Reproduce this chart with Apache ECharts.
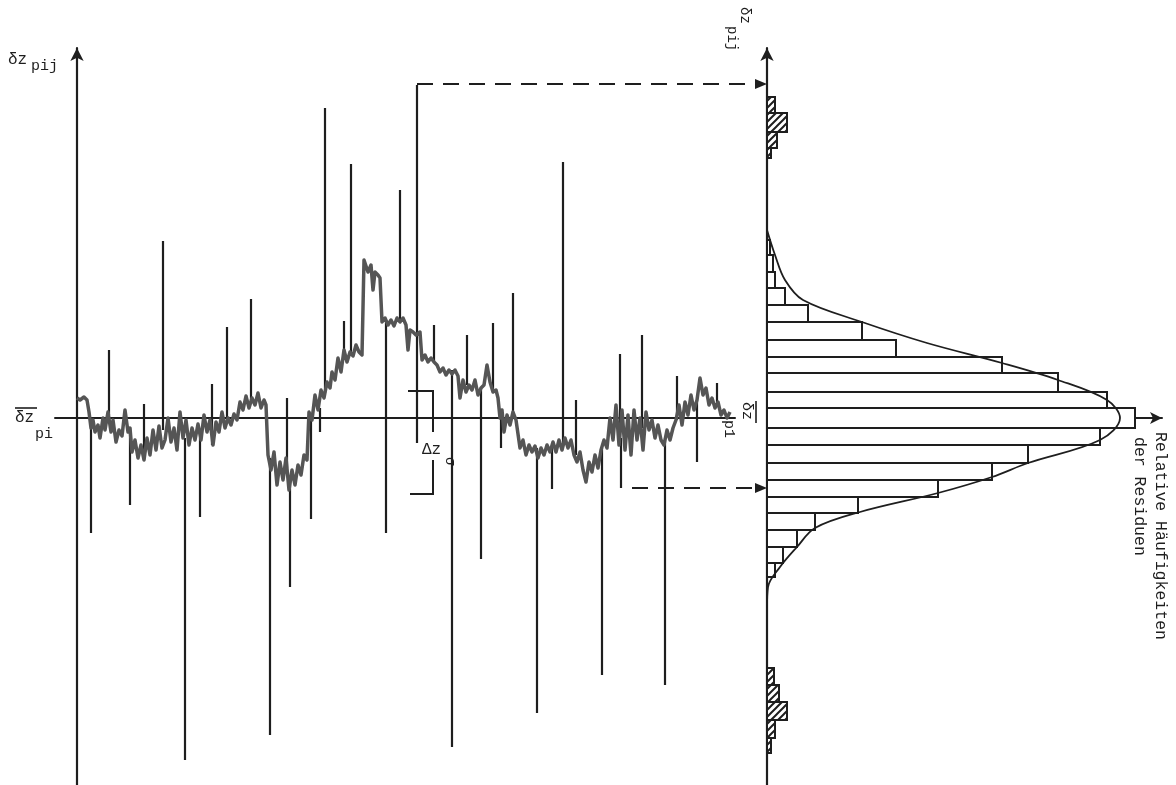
<!DOCTYPE html>
<html>
<head>
<meta charset="utf-8">
<script src="https://cdn.jsdelivr.net/npm/echarts@6/dist/echarts.min.js"></script>
<style>
html, body { margin: 0; padding: 0; background: #fff; }
#chart { width: 1176px; height: 785px; }
</style>
</head>
<body>
<div id="chart"></div>
<script>
// residuals dz_pij along profile p1: [position, dz]
var trace = [
    [0, 2.0], [3, 1.8], [7, 2.1], [10, 1.8], [12, 0.6], [14, -1.0], [16, -0.2], [18, -1.4], [21, -0.7], [23, -2.0],
    [26, 0], [28, -1.2], [31, 0.6], [34, -1.4], [36, -0.2], [39, -2.4], [42, -1.2], [45, -1.8], [48, 0.8], [51, -1.4],
    [53, -1.0], [55, -3.4], [58, -2.2], [61, -4.0], [64, -2.7], [67, -4.2], [70, -2.0], [73, -3.7], [76, -1.2], [79, -3.2],
    [82, -0.8], [85, -3.0], [88, -2.2], [91, 0], [94, -2.4], [97, -1.0], [100, -3.2], [103, 0.6], [106, -2.0], [109, -0.2],
    [112, -2.7], [115, -1.0], [118, -2.2], [121, -0.6], [124, -2.2], [127, 0.3], [130, -1.4], [133, -0.2], [136, -2.7], [139, -0.4],
    [142, -1.4], [145, 0.6], [148, -1.0], [151, 0], [154, -0.7], [157, 0.4], [160, -0.2], [163, 1.6], [166, 0.8], [169, 2.2],
    [172, 1.0], [175, 2.0], [178, 1.3], [181, 2.5], [184, 1.0], [187, 1.8], [189, 1.3], [191, -3.7], [194, -5.2], [197, -3.4],
    [200, -6.7], [203, -4.4], [206, -6.2], [209, -4.0], [212, -7.2], [215, -5.2], [218, -6.7], [221, -4.7], [224, -5.7], [227, -3.7],
    [230, -4.2], [232, 0.6], [235, -0.2], [238, 2.3], [241, 0.8], [244, 2.8], [247, 2.0], [250, 3.6], [253, 3.0], [255, 4.6],
    [258, 3.8], [261, 6.0], [264, 4.6], [267, 6.8], [270, 5.6], [273, 6.6], [276, 6.2], [279, 7.3], [282, 6.6], [285, 6.3],
    [287, 15.8], [289, 16.0], [291, 14.6], [294, 15.3], [296, 12.8], [298, 14.6], [301, 14.3], [303, 14.0], [305, 9.6], [308, 10.0],
    [311, 9.3], [314, 9.8], [317, 9.2], [320, 10.0], [323, 9.6], [326, 10.0], [329, 9.3], [331, 6.8], [333, 8.8], [336, 8.6],
    [339, 8.3], [343, 8.6], [345, 5.8], [348, 6.3], [351, 5.6], [354, 6.0], [357, 5.6], [360, 5.3], [363, 4.6], [366, 5.0],
    [369, 4.3], [372, 4.8], [375, 4.4], [378, 4.8], [381, 4.2], [383, 2.0], [386, 3.8], [389, 2.6], [392, 3.3], [395, 2.8],
    [398, 3.8], [401, 2.3], [404, 3.0], [407, 3.3], [410, 5.3], [413, 3.6], [416, 2.6], [419, 2.8], [421, 2.0], [423, 0],
    [425, 0.8], [427, -1.4], [430, 0.3], [433, -0.7], [436, 0.6], [439, -0.2], [441, 0], [443, -3.0], [446, -2.2], [449, -3.7],
    [452, -2.7], [455, -3.4], [458, -2.8], [461, -4.0], [464, -3.0], [467, -3.7], [470, -2.7], [473, -3.4], [476, -2.4], [479, -3.4],
    [482, -2.2], [485, -3.2], [488, -2.0], [491, -3.0], [494, -2.2], [497, -3.7], [500, -4.4], [503, -3.4], [506, -5.2], [509, -6.4],
    [512, -4.4], [515, -5.4], [518, -3.7], [521, -5.0], [524, -3.2], [527, -2.2], [530, -3.0], [533, 0], [536, -2.2], [539, 1.3],
    [542, -2.7], [545, 0.8], [548, -3.2], [551, 0.3], [554, -3.7], [557, 0.8], [560, -2.2], [563, 0], [566, -3.2], [569, 0.6],
    [572, -1.2], [575, -0.2], [578, -2.0], [581, -0.7], [584, -2.2], [587, -2.7], [590, -1.2], [593, -2.2], [596, -1.0], [599, -0.2],
    [602, 1.3], [605, -0.7], [608, 1.6], [611, 0.3], [614, 2.3], [617, 0.8], [620, 1.8], [623, 4.0], [626, 2.3], [629, 3.0],
    [632, 1.3], [635, 2.0], [638, 1.0], [641, 1.6], [644, 0.3], [647, 0.8], [650, 0], [653, 0.6]
];

// gross errors (spikes): [position, from, to]
var spikes = [
    [32, 0.3, 6.8], [67, -4.2, 1.4], [86, -1.2, 17.7], [135, -2.7, 3.4], [150, -0.5, 9.1],
    [174, 1.5, 11.9], [210, -5.0, 2.0], [248, 2.5, 31.0], [267, 6.5, 9.7], [274, 6.5, 25.4],
    [323, 9.6, 22.8], [340, -2.5, 33.3], [357, 5.6, 9.3], [390, 3.3, 8.3], [416, 2.6, 9.5],
    [436, 0.6, 12.5], [486, -2.5, 25.6], [499, -3.7, 1.8], [543, -2.0, 6.4], [565, -1.0, 8.3],
    [600, -0.2, 4.2], [640, 1.6, 3.5],
    [14, -1.0, -11.5], [53, -1.0, -8.7], [108, -2.0, -34.2], [123, -2.0, -9.9], [193, -4.0, -31.7],
    [213, -6.0, -16.9], [234, 0.0, -10.1], [243, 1.0, -1.4], [309, 9.6, -11.5], [375, 4.8, -32.9],
    [404, 3.0, -14.1], [424, 0.5, -3.0], [460, -3.0, -29.5], [475, -3.0, -7.1], [525, -3.0, -25.7],
    [544, -2.0, -7.0], [588, -2.0, -26.7], [620, 1.8, -4.4]
];

// delta z sigma bracket
var bracketTop = [[331, 2.7], [356, 2.7], [356, -1.4]];
var bracketBottom = [[356, -4.2], [356, -7.6], [333, -7.6]];

// dashed arrows to the histogram: [from position, level, to position]
var arrows = [[340, 33.4, 690], [555, -7.0, 690]];

// histogram of residuals: class low, class high, relative frequency
var binLow  = [16.3, 14.6, 13.0, 11.3, 9.6, 7.8, 6.1, 4.5, 2.6, 1.0, -1.0, -2.7, -4.5, -6.2, -7.9, -9.5, -11.2, -12.9, -14.5, -15.9];
var binHigh = [17.8, 16.3, 14.6, 13.0, 11.3, 9.6, 7.8, 6.1, 4.5, 2.6, 1.0, -1.0, -2.7, -4.5, -6.2, -7.9, -9.5, -11.2, -12.9, -14.5];
var binFreq = [0.3, 0.6, 0.8, 1.8, 4.1, 9.5, 12.9, 23.5, 29.1, 34.0, 36.8, 33.3, 26.1, 22.5, 17.1, 9.1, 4.8, 3.0, 1.6, 0.8];

// outlier classes (hatched)
var outLow  = [30.5, 28.6, 27.0, 26.0, -26.7, -28.4, -30.2, -32.0, -33.5];
var outHigh = [32.1, 30.5, 28.6, 27.0, -25.0, -26.7, -28.4, -30.2, -32.0];
var outFreq = [0.8, 2.0, 1.0, 0.4, 0.7, 1.2, 2.0, 0.8, 0.4];

// normal curve as drawn
var curveFreq = [0, 0.8, 1.8, 3.6, 9.5, 16.0, 23.5, 29.1, 34.0, 35.3, 33.3, 26.1, 22.5, 17.1, 9.3, 4.8, 3.0, 1.3, 0.1, 0];
var curveDz   = [18.8, 16.3, 13.8, 11.8, 9.6, 7.5, 5.5, 3.8, 1.8, 0, -2.2, -4.5, -5.9, -7.5, -9.4, -11.0, -12.9, -14.9, -16.9, -19.0];

var ink = '#1e1e1e';
var traceColor = '#555';
var mono = '"Liberation Mono", "DejaVu Sans Mono", monospace';

var chart = echarts.init(document.getElementById('chart'));

function zip3(a, b, c) {
    return a.map(function (v, i) { return [v, b[i], c[i]]; });
}

var hatch = document.createElement('canvas');
hatch.width = 7;
hatch.height = 7;
(function () {
    var g = hatch.getContext('2d');
    g.fillStyle = '#fff';
    g.fillRect(0, 0, 7, 7);
    g.strokeStyle = ink;
    g.lineWidth = 2;
    g.beginPath();
    g.moveTo(-1, 8); g.lineTo(8, -1);
    g.moveTo(-4, 4); g.lineTo(4, -4);
    g.moveTo(3, 11); g.lineTo(11, 3);
    g.stroke();
})();

function binRenderer(fill) {
    return function (params, api) {
        var a = api.coord([0, api.value(1)]);
        var b = api.coord([api.value(2), api.value(0)]);
        return {
            type: 'rect',
            shape: {x: a[0], y: a[1], width: b[0] - a[0], height: b[1] - a[1]},
            style: {fill: fill, stroke: ink, lineWidth: 2}
        };
    };
}

var hiddenAxis = {
    axisTick: {show: false},
    axisLabel: {show: false},
    splitLine: {show: false}
};

function axis(extra) {
    return Object.assign({}, hiddenAxis, extra);
}

var option = {
    backgroundColor: '#fff',
    animation: false,
    grid: [
        {left: 55, top: 48, width: 680, height: 737},
        {left: 767, top: 48, width: 395, height: 737}
    ],
    xAxis: [
        axis({type: 'value', gridIndex: 0, min: -22, max: 658,
            axisLine: {onZero: true, lineStyle: {color: ink, width: 2}}}),
        axis({type: 'value', gridIndex: 1, min: 0, max: 39.5,
            axisLine: {onZero: true, symbol: ['none', 'arrow'], symbolSize: [9, 12], lineStyle: {color: ink, width: 2}}})
    ],
    yAxis: [
        axis({type: 'value', gridIndex: 0, min: -36.7, max: 37,
            axisLine: {show: true, onZero: true, symbol: ['none', 'arrow'], symbolSize: [10, 13], lineStyle: {color: ink, width: 2.2}}}),
        axis({type: 'value', gridIndex: 1, min: -36.7, max: 37,
            axisLine: {show: true, onZero: true, symbol: ['none', 'arrow'], symbolSize: [10, 13], lineStyle: {color: ink, width: 2.2}}})
    ],
    series: [
        {
            type: 'custom',
            xAxisIndex: 0, yAxisIndex: 0,
            data: spikes,
            z: 2,
            renderItem: function (params, api) {
                var a = api.coord([api.value(0), api.value(1)]);
                var b = api.coord([api.value(0), api.value(2)]);
                return {type: 'line', shape: {x1: a[0], y1: a[1], x2: b[0], y2: b[1]},
                    style: {stroke: ink, lineWidth: 2.2}};
            }
        },
        {
            type: 'line',
            xAxisIndex: 0, yAxisIndex: 0,
            data: trace,
            showSymbol: false,
            z: 3,
            lineStyle: {color: traceColor, width: 3.5, join: 'round'}
        },
        {
            type: 'custom',
            xAxisIndex: 0, yAxisIndex: 0,
            data: [0, 1],
            renderItem: function (params, api) {
                var pts = (params.dataIndex === 0 ? bracketTop : bracketBottom).map(function (p) {
                    return api.coord(p);
                });
                return {type: 'polyline', shape: {points: pts}, style: {stroke: ink, lineWidth: 2, fill: null}};
            }
        },
        {
            type: 'custom',
            xAxisIndex: 0, yAxisIndex: 0,
            data: arrows,
            clip: false,
            renderItem: function (params, api) {
                var a = api.coord([api.value(0), api.value(1)]);
                var b = api.coord([api.value(2), api.value(1)]);
                return {
                    type: 'group',
                    children: [
                        {type: 'line', shape: {x1: a[0], y1: a[1], x2: b[0] - 8, y2: b[1]},
                            style: {stroke: ink, lineWidth: 2.2, lineDash: [16, 10]}},
                        {type: 'polygon', shape: {points: [[b[0], b[1]], [b[0] - 12, b[1] - 5], [b[0] - 12, b[1] + 5]]},
                            style: {fill: ink}}
                    ]
                };
            }
        },
        {
            type: 'custom',
            xAxisIndex: 1, yAxisIndex: 1,
            data: zip3(binLow, binHigh, binFreq),
            renderItem: binRenderer('#fff')
        },
        {
            type: 'custom',
            xAxisIndex: 1, yAxisIndex: 1,
            data: zip3(outLow, outHigh, outFreq),
            renderItem: binRenderer({image: hatch, repeat: 'repeat'})
        },
        {
            type: 'line',
            xAxisIndex: 1, yAxisIndex: 1,
            data: curveFreq.map(function (f, i) { return [f, curveDz[i]]; }),
            smooth: 0.35,
            showSymbol: false,
            z: 4,
            lineStyle: {color: ink, width: 1.8}
        }
    ],
    graphic: [
        {type: 'text', x: 8, y: 60, style: {text: 'δz', font: '16px ' + mono, fill: ink, textVerticalAlign: 'middle'}},
        {type: 'text', x: 31, y: 66, style: {text: 'pij', font: '15px ' + mono, fill: ink, textVerticalAlign: 'middle'}},

        {type: 'line', shape: {x1: 15, y1: 408, x2: 37, y2: 408}, style: {stroke: ink, lineWidth: 1.6}},
        {type: 'text', x: 15, y: 418, style: {text: 'δz', font: '16px ' + mono, fill: ink, textVerticalAlign: 'middle'}},
        {type: 'text', x: 35, y: 434, style: {text: 'pi', font: '15px ' + mono, fill: ink, textVerticalAlign: 'middle'}},

        {type: 'text', x: 729, y: 420, rotation: -Math.PI / 2,
            style: {text: 'p1', font: '15px ' + mono, fill: ink, textVerticalAlign: 'middle'}},
        {type: 'text', x: 747, y: 402, rotation: -Math.PI / 2,
            style: {text: 'δz', font: '15px ' + mono, fill: ink, textVerticalAlign: 'middle'}},
        {type: 'line', shape: {x1: 756, y1: 401, x2: 756, y2: 423}, style: {stroke: ink, lineWidth: 1.6}},

        {type: 'text', x: 745, y: 7, rotation: -Math.PI / 2,
            style: {text: 'δz', font: '14px ' + mono, fill: ink, textVerticalAlign: 'middle'}},
        {type: 'text', x: 732, y: 26, rotation: -Math.PI / 2,
            style: {text: 'pij', font: '14px ' + mono, fill: ink, textVerticalAlign: 'middle'}},

        {type: 'text', x: 422, y: 450, style: {text: 'Δz', font: '16px ' + mono, fill: ink, textVerticalAlign: 'middle'}},
        {type: 'text', x: 450, y: 457, rotation: -Math.PI / 2,
            style: {text: 'σ', font: '14px ' + mono, fill: ink, textVerticalAlign: 'middle'}},

        {type: 'text', x: 1160, y: 432, rotation: -Math.PI / 2,
            style: {text: 'Relative Häufigkeiten', font: '16.5px ' + mono, fill: ink, textVerticalAlign: 'middle'}},
        {type: 'text', x: 1139, y: 437, rotation: -Math.PI / 2,
            style: {text: 'der Residuen', font: '16.5px ' + mono, fill: ink, textVerticalAlign: 'middle'}}
    ]
};

chart.setOption(option);
</script>
</body>
</html>
